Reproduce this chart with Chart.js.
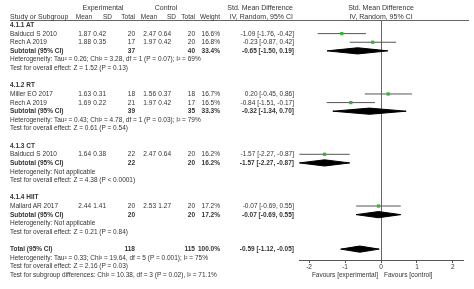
<!DOCTYPE html>
<html>
<head>
<meta charset="utf-8">
<script src="https://cdn.jsdelivr.net/npm/chart.js@4"></script>
<style>
  html, body { margin: 0; padding: 0; background: #fff; }
  #wrap { position: relative; width: 474px; height: 289px; overflow: hidden;
          font-family: "Liberation Sans", Arial, sans-serif; color: #333; }
  #wrap canvas { position: absolute; left: 0; top: 0; }
  .t { position: absolute; white-space: nowrap; font-size: 6.5px; line-height: 8px; }
  .h { font-size: 7px; }
  .b { font-weight: bold; }
  .rule { position: absolute; left: 10px; width: 459px; top: 20px; height: 1px; background: #666; }
</style>
</head>
<body>
<div id="wrap">
  <canvas id="forest" width="474" height="289"></canvas>
  <div class="rule"></div>
</div>
<script>
"use strict";

/* Forest plot: std. mean difference, random effects, four training subgroups. */

const groupNames = ["4.1.1 AT", "4.1.2 RT", "4.1.3 CT", "4.1.4 HIIT"];
const studyNames = ["Balducci S 2010", "Rech A 2019", "Miller EO 2017", "Rech A 2019", "Balducci S 2010", "Mallard AR 2017"];
const studyGroup = [0, 0, 1, 1, 2, 3];
const expMean = [1.87, 1.88, 1.63, 1.69, 1.64, 2.44];
const expSD = [0.42, 0.35, 0.31, 0.22, 0.38, 1.41];
const expN = [20, 17, 18, 21, 22, 20];
const ctlMean = [2.47, 1.97, 1.56, 1.97, 2.47, 2.53];
const ctlSD = [0.64, 0.42, 0.37, 0.42, 0.64, 1.27];
const ctlN = [20, 20, 18, 17, 20, 20];
const studyWeight = [16.6, 16.8, 16.7, 16.5, 16.2, 17.2];
const studySmd = [-1.09, -0.23, 0.20, -0.84, -1.57, -0.07];
const studyLo = [-1.76, -0.87, -0.45, -1.51, -2.27, -0.69];
const studyHi = [-0.42, 0.42, 0.86, -0.17, -0.87, 0.55];

const subExpN = [37, 39, 22, 20];
const subCtlN = [40, 35, 20, 20];
const subWeight = [33.4, 33.3, 16.2, 17.2];
const subSmd = [-0.65, -0.32, -1.57, -0.07];
const subLo = [-1.50, -1.34, -2.27, -0.69];
const subHi = [0.19, 0.70, -0.87, 0.55];
const subHet = [
  "Heterogeneity: Tau² = 0.26; Chi² = 3.28, df = 1 (P = 0.07); I² = 69%",
  "Heterogeneity: Tau² = 0.43; Chi² = 4.78, df = 1 (P = 0.03); I² = 79%",
  "Heterogeneity: Not applicable",
  "Heterogeneity: Not applicable",
];
const subTest = [
  "Test for overall effect: Z = 1.52 (P = 0.13)",
  "Test for overall effect: Z = 0.61 (P = 0.54)",
  "Test for overall effect: Z = 4.38 (P < 0.0001)",
  "Test for overall effect: Z = 0.21 (P = 0.84)",
];

const totalExpN = 118;
const totalCtlN = 115;
const totalWeight = 100.0;
const totalSmd = -0.59;
const totalLo = -1.12;
const totalHi = -0.05;
const totalNotes = [
  "Heterogeneity: Tau² = 0.33; Chi² = 19.64, df = 5 (P = 0.001); I² = 75%",
  "Test for overall effect: Z = 2.16 (P = 0.03)",
  "Test for subgroup differences: Chi² = 10.38, df = 3 (P = 0.02), I² = 71.1%",
];

const xTicks = [-2, -1, 0, 1, 2];

// layout
const ROW0 = 25, ROWH = 8.62;
const rowY = (r) => ROW0 + ROWH * r;
const COL = { study: 10, expMean: 91, expSD: 106, expN: 135, ctlMean: 156, ctlSD: 171, ctlN: 195, weight: 220, ci: 294 };
const wrap = document.getElementById("wrap");

const f2 = (v) => v.toFixed(2);
const ciText = (m, lo, hi) => `${f2(m)} [${f2(lo)}, ${f2(hi)}]`;

function put(text, x, y, align, cls) {
  const d = document.createElement("div");
  d.className = "t " + (cls || "");
  d.textContent = text;
  if (align === "right") d.style.right = (474 - x) + "px";
  else if (align === "center") { d.style.left = (x - 100) + "px"; d.style.width = "200px"; d.style.textAlign = "center"; }
  else d.style.left = x + "px";
  d.style.top = (y - 4) + "px";
  wrap.appendChild(d);
}

// header
put("Experimental", 103, 8, "center", "h");
put("Control", 166, 8, "center", "h");
put("Std. Mean Difference", 293, 8, "right", "h");
put("Std. Mean Difference", 381, 8, "center", "h");
put("Study or Subgroup", COL.study, 16.5, "left", "h");
[["Mean", 92], ["SD", 112], ["Total", 135], ["Mean", 157], ["SD", 176], ["Total", 195], ["Weight", 220]]
  .forEach(([t, x]) => put(t, x, 16.5, "right"));
put("IV, Random, 95% CI", 293, 16.5, "right", "h");
put("IV, Random, 95% CI", 381, 16.5, "center", "h");

// rows
const studyRows = [];
const subRows = [];
let r = 0;
groupNames.forEach((g, gi) => {
  put(g, COL.study, rowY(r), "left", "b");
  r++;
  studyNames.forEach((name, i) => {
    if (studyGroup[i] !== gi) return;
    const y = rowY(r);
    put(name, COL.study, y, "left");
    put(f2(expMean[i]), COL.expMean, y, "right");
    put(f2(expSD[i]), COL.expSD, y, "right");
    put(String(expN[i]), COL.expN, y, "right");
    put(f2(ctlMean[i]), COL.ctlMean, y, "right");
    put(f2(ctlSD[i]), COL.ctlSD, y, "right");
    put(String(ctlN[i]), COL.ctlN, y, "right");
    put(studyWeight[i].toFixed(1) + "%", COL.weight, y, "right");
    put(ciText(studySmd[i], studyLo[i], studyHi[i]), COL.ci, y, "right");
    studyRows[i] = r;
    r++;
  });
  const y = rowY(r);
  put("Subtotal (95% CI)", COL.study, y, "left", "b");
  put(String(subExpN[gi]), COL.expN, y, "right", "b");
  put(String(subCtlN[gi]), COL.ctlN, y, "right", "b");
  put(subWeight[gi].toFixed(1) + "%", COL.weight, y, "right", "b");
  put(ciText(subSmd[gi], subLo[gi], subHi[gi]), COL.ci, y, "right", "b");
  subRows[gi] = r;
  r++;
  put(subHet[gi], COL.study, rowY(r++), "left");
  put(subTest[gi], COL.study, rowY(r++), "left");
  r++;
});
const totalRow = r;
put("Total (95% CI)", COL.study, rowY(r), "left", "b");
put(String(totalExpN), COL.expN, rowY(r), "right", "b");
put(String(totalCtlN), COL.ctlN, rowY(r), "right", "b");
put(totalWeight.toFixed(1) + "%", COL.weight, rowY(r), "right", "b");
put(ciText(totalSmd, totalLo, totalHi), COL.ci, rowY(r), "right", "b");
r++;
totalNotes.forEach((t) => put(t, COL.study, rowY(r++), "left"));

put("Favours [experimental]", 378, 274.5, "right");
put("Favours [control]", 384, 274.5, "left");

// chart
const DH = 0.36; // diamond half-height, in rows
const diamond = (m, lo, hi, row) => ({
  type: "line",
  data: [{ x: lo, y: row }, { x: m, y: row - DH }, { x: hi, y: row }, { x: m, y: row + DH }, { x: lo, y: row }],
  borderColor: "#000", backgroundColor: "#000", borderWidth: 1,
  pointRadius: 0, fill: "shape", tension: 0, order: 2,
});

const datasets = [{
  data: studySmd.map((m, i) => ({ x: m, y: studyRows[i] })),
  pointStyle: "rect", pointRadius: 2.3,
  backgroundColor: "#2fb82f", borderColor: "#2fb82f", borderWidth: 0, order: 0,
}];
studySmd.forEach((m, i) => datasets.push({
  type: "line",
  data: [{ x: studyLo[i], y: studyRows[i] }, { x: studyHi[i], y: studyRows[i] }],
  borderColor: "#555", borderWidth: 1, pointRadius: 0, fill: false, order: 1,
}));
subSmd.forEach((m, gi) => datasets.push(diamond(m, subLo[gi], subHi[gi], subRows[gi])));
datasets.push(diamond(totalSmd, totalLo, totalHi, totalRow));

Chart.defaults.font.family = '"Liberation Sans", Arial, sans-serif';

new Chart(document.getElementById("forest"), {
  type: "scatter",
  data: { datasets },
  options: {
    responsive: false,
    animation: false,
    events: [],
    layout: { padding: { left: 299, right: 11, top: 20, bottom: 17 } },
    plugins: { legend: { display: false }, tooltip: { enabled: false } },
    scales: {
      x: {
        type: "linear", min: -2.28, max: 2.28,
        afterBuildTicks: (s) => { s.ticks = xTicks.map((v) => ({ value: v })); },
        afterFit: (s) => { s.height = 12; },
        border: { display: true, color: "#555", width: 1 },
        grid: {
          drawOnChartArea: true,
          color: (c) => (c.tick && c.tick.value === 0 ? "#666" : "rgba(0,0,0,0)"),
          tickLength: 3, tickColor: "#555",
        },
        ticks: { padding: 0, color: "#333", font: { size: 6.5 }, callback: (v) => String(v) },
      },
      y: { type: "linear", display: false, reverse: true, min: (20 - ROW0) / ROWH, max: (260 - ROW0) / ROWH },
    },
  },
});
</script>
</body>
</html>
